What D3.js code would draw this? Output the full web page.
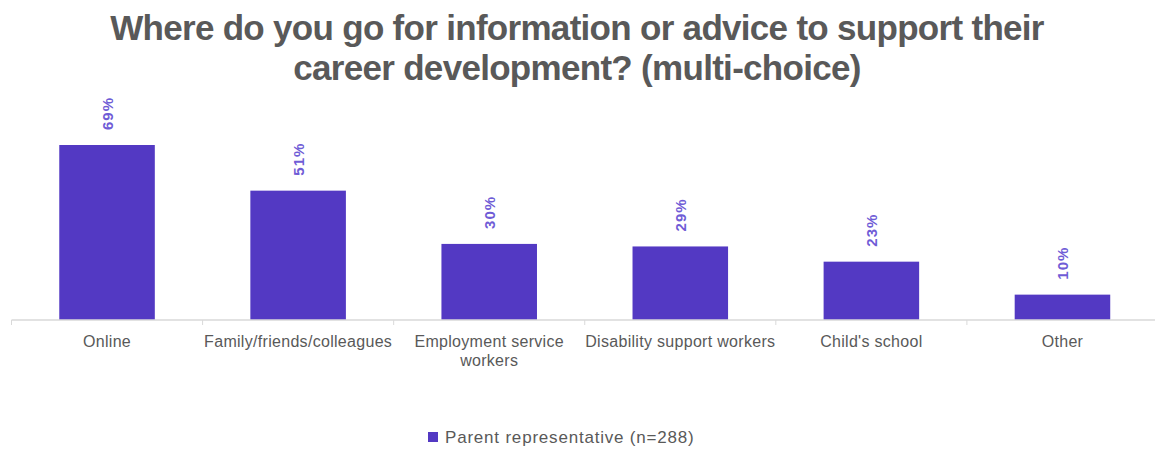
<!DOCTYPE html>
<html><head><meta charset="utf-8">
<script src="https://cdn.jsdelivr.net/npm/d3@7"></script>
<style>body{margin:0;background:#fff;} svg{display:block;font-family:"Liberation Sans",Arial,sans-serif;}</style>
</head><body><svg id="c" width="1155" height="450"></svg>
<script>
const categories = ["Online","Family/friends/colleagues","Employment service workers","Disability support workers","Child's school","Other"];
const values = [69,51,30,29,23,10];
const seriesName = "Parent representative (n=288)";
const titleLines = ["Where do you go for information or advice to support their","career development? (multi-choice)"];

const svg = d3.select("#c");
const barColor = "#5339c3", labelColor = "#6f5cd6", textColor = "#595959";

const x = d3.scaleBand().domain(categories).range([11.5, 1158]).paddingInner(0.5).paddingOuter(0.25);
const y = d3.scaleLinear().domain([0, 69]).range([320, 145]);

svg.append("g").selectAll("text").data(titleLines).join("text")
  .attr("x", 577).attr("y", (d,i)=>40 + i*40)
  .attr("text-anchor","middle").attr("font-size", 35).attr("font-weight","bold")
  .attr("letter-spacing", -0.7)
  .attr("fill", textColor).text(d=>d);

svg.append("g").selectAll("rect").data(values).join("rect")
  .attr("x",(d,i)=>x(categories[i])).attr("width",x.bandwidth())
  .attr("y",d=>y(d)).attr("height",d=>y(0)-y(d)).attr("fill",barColor);

// axis
const axisG = svg.append("g").attr("transform","translate(0,320)");
axisG.append("line").attr("x1",11.5).attr("x2",1158).attr("stroke","#d9d9d9").attr("stroke-width",1.5);
const tickPos = categories.map((c,i)=>11.5 + i*x.step());
axisG.selectAll("line.t").data(tickPos).join("line").attr("class","t")
  .attr("x1",d=>d).attr("x2",d=>d).attr("y1",0).attr("y2",5).attr("stroke","#d9d9d9");

// category labels with wrapping
const maxW = x.step()+8;
const lab = svg.append("g").selectAll("text").data(categories).join("text")
  .attr("x",d=>x(d)+x.bandwidth()/2).attr("y",347)
  .attr("text-anchor","middle").attr("font-size",16).attr("letter-spacing",0.3).attr("fill",textColor);
lab.each(function(d){
  const t = d3.select(this);
  const words = d.split(" ");
  let line=[], lines=[];
  const tmp = t.append("tspan");
  words.forEach(w=>{
    line.push(w); tmp.text(line.join(" "));
    if(tmp.node().getComputedTextLength()>maxW && line.length>1){ line.pop(); lines.push(line.join(" ")); line=[w]; }
  });
  lines.push(line.join(" ")); tmp.remove();
  lines.forEach((l,i)=>t.append("tspan").attr("x",x(d)+x.bandwidth()/2).attr("dy",i?19:0).text(l));
});

// value labels rotated
svg.append("g").selectAll("text").data(values).join("text")
  .attr("transform",(d,i)=>`translate(${x(categories[i])+x.bandwidth()/2+6},${y(d)-15}) rotate(-90)`)
  .attr("font-size",15).attr("font-weight","bold").attr("letter-spacing",1).attr("fill",labelColor)
  .text(d=>d+"%");

// legend
const lg = svg.append("g");
lg.append("rect").attr("x",428).attr("y",432).attr("width",10).attr("height",10).attr("fill",barColor);
lg.append("text").attr("x",445).attr("y",443).attr("font-size",17).attr("letter-spacing",0.8).attr("fill",textColor).text(seriesName);
</script></body></html>
